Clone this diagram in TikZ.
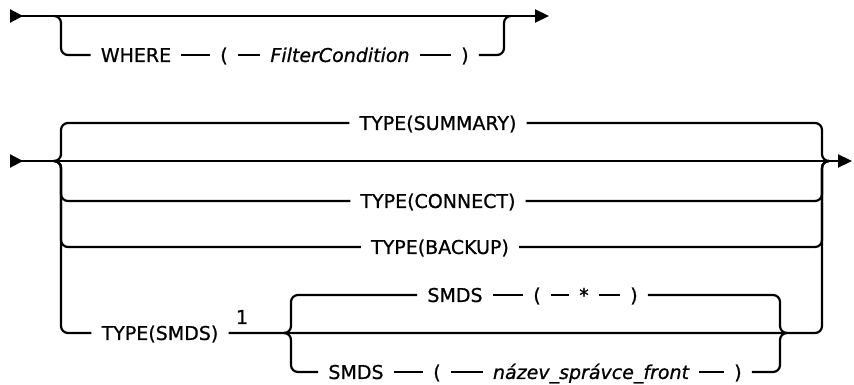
\documentclass[tikz,border=0pt]{standalone}
\usepackage{fontspec}
\setmainfont{DejaVu Sans}[FakeBold=0.9]
\usetikzlibrary{arrows.meta}

\newcommand*{\ytop}{16}
\newcommand*{\ywhere}{55}
\newcommand*{\ymain}{161}
\newcommand*{\ysmds}{333}
\newcommand*{\xleft}{61}
\newcommand*{\xright}{822}

\begin{document}
\begin{tikzpicture}
[
	x=1pt,y=-1pt,
	rail/.style={line width=2.2pt,rounded corners=7pt},
	tips/.style={{Triangle[reversed,length=13pt,width=13pt]}-{Triangle[length=14pt,width=13pt]}},
	token/.style={inner xsep=10pt,inner ysep=0pt,text height=13.9pt,text depth=0pt,font=\fontsize{19}{22}\selectfont},
	var/.style={token,font=\fontsize{19}{22}\selectfont\itshape}
]
	\useasboundingbox (0,0) rectangle (854,385);

	% where clause
	\coordinate (start1) at (10,\ytop);
	\coordinate (win) at (54,\ytop);
	\coordinate (wsplit) at (\xleft,\ytop);
	\coordinate (wjoin) at (504,\ytop);
	\coordinate (wout) at (511,\ytop);
	\coordinate (stop1) at (549,\ytop);
	\node[token] at (136,\ywhere) (where) {WHERE};
	\node[token] at (224,\ywhere) (lpar1) {(};
	\node[var] at (340,\ywhere) (filter) {FilterCondition};
	\node[token] at (465,\ywhere) (rpar1) {)};

	\draw[rail,tips] (start1) -- (stop1);
	\draw[rail] (win) -- (wsplit) |- (where.west);
	\draw[rail] (rpar1.east) -| (wjoin) -- (wout);

	% type choice
	\coordinate (start2) at (10,\ymain);
	\coordinate (tin) at (54,\ymain);
	\coordinate (tsplit) at (\xleft,\ymain);
	\coordinate (tjoin) at (\xright,\ymain);
	\coordinate (tout) at (829,\ymain);
	\coordinate (stop2) at (852,\ymain);
	\node[token] at (438,123) (summary) {TYPE(SUMMARY)};
	\node[token] at (438,201) (connect) {TYPE(CONNECT)};
	\node[token] at (440,247) (backup) {TYPE(BACKUP)};
	\node[token] at (160,\ysmds) (typesmds) {TYPE(SMDS)};
	\node[font=\fontsize{19}{22}\selectfont] at (242,317) (note) {1};

	\draw[rail,tips] (start2) -- (stop2);
	\foreach \n in {summary,connect,backup} {
		\draw[rail] (tin) -- (tsplit) |- (\n.west);
		\draw[rail] (\n.east) -| (tjoin) -- (tout);
	}
	\draw[rail] (tin) -- (tsplit) |- (typesmds.west);

	% smds choice
	\coordinate (ssplit) at (291,\ysmds);
	\coordinate (sin) at (284,\ysmds);
	\coordinate (sjoin) at (780,\ysmds);
	\coordinate (sout) at (787,\ysmds);
	\node[token] at (455,295) (smdsa) {SMDS};
	\node[token] at (537,295) (lpar2) {(};
	\node[token] at (584,295) (star) {*};
	\node[token] at (634,295) (rpar2) {)};
	\node[token] at (356,372) (smdsb) {SMDS};
	\node[token] at (437,372) (lpar3) {(};
	\node[var] at (591,372) (qname) {název\_správce\_front};
	\node[token] at (738,372) (rpar3) {)};

	\draw[rail] (typesmds.east) -- (sjoin) -| (tjoin) -- (tout);
	\draw[rail] (sin) -- (ssplit) |- (smdsa.west);
	\draw[rail] (sin) -- (ssplit) |- (smdsb.west);
	\draw[rail] (rpar2.east) -| (sjoin) -- (sout);
	\draw[rail] (rpar3.east) -| (sjoin) -- (sout);

	% tokens in a row
	\foreach \a/\b in {where/lpar1,lpar1/filter,filter/rpar1,smdsa/lpar2,lpar2/star,star/rpar2,smdsb/lpar3,lpar3/qname,qname/rpar3} {
		\draw[rail] (\a) -- (\b);
	}

\end{tikzpicture}
\end{document}
